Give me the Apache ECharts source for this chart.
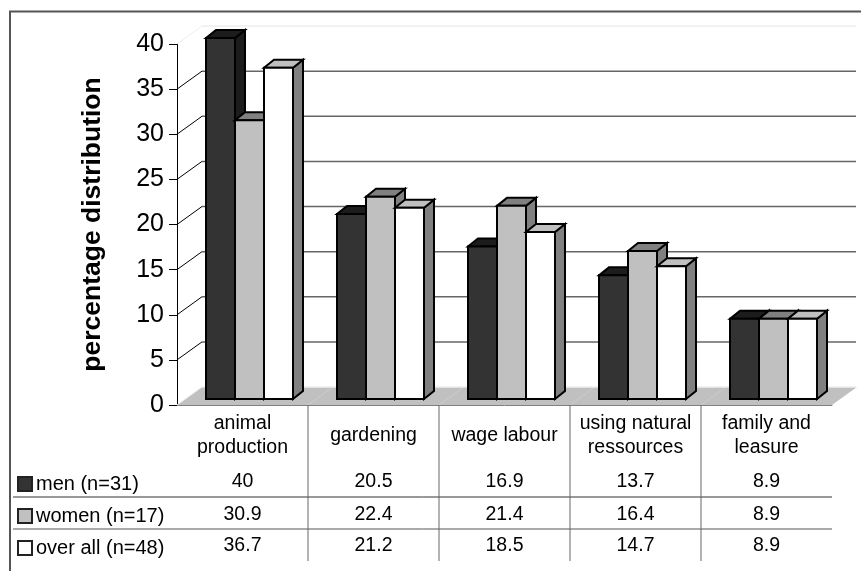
<!DOCTYPE html>
<html>
<head>
<meta charset="utf-8">
<script src="https://cdn.jsdelivr.net/npm/echarts@6/dist/echarts.min.js"></script>
<style>
html, body { margin: 0; padding: 0; background: #fff; }
#chart { width: 861px; height: 571px; }
</style>
</head>
<body>
<div id="chart"></div>
<script>
var categories = ['animal\nproduction', 'gardening', 'wage labour', 'using natural\nressources', 'family and\nleasure'];
var menValues = [40, 20.5, 16.9, 13.7, 8.9];
var womenValues = [30.9, 22.4, 21.4, 16.4, 8.9];
var allValues = [36.7, 21.2, 18.5, 14.7, 8.9];
var yTicks = [0, 5, 10, 15, 20, 25, 30, 35, 40];

var FONT = '"Liberation Sans", Arial, sans-serif';
// fake 3d sizes, same as the excel look
var WALL_DX = 25, WALL_DY = 18;
var BAR_W = 29, BAR_DX = 10, BAR_DY = 8;
var BAR_SHIFT_X = 7, BAR_SHIFT_Y = 6;
var ROW_Y = [482, 515, 546];

function poly(points, fill, stroke, lineWidth) {
    return { type: 'polygon', shape: { points: points }, style: { fill: fill, stroke: stroke, lineWidth: lineWidth, lineJoin: 'miter' } };
}

// one 3d bar plus its number in the table under the chart
function barRenderer(seriesPos, front, top, side) {
    return function (params, api) {
        var p = api.coord([api.value(0), api.value(1)]);
        var p0 = api.coord([api.value(0), 0]);
        var x0 = p[0] + BAR_SHIFT_X + (seriesPos - 1.5) * BAR_W;
        var x1 = x0 + BAR_W;
        var yTop = p[1] - BAR_SHIFT_Y;
        var yBase = p0[1] - BAR_SHIFT_Y;
        return {
            type: 'group',
            children: [
                poly([[x1, yTop], [x1 + BAR_DX, yTop - BAR_DY], [x1 + BAR_DX, yBase - BAR_DY], [x1, yBase]], side, '#000', 2),
                poly([[x0, yTop], [x0 + BAR_DX, yTop - BAR_DY], [x1 + BAR_DX, yTop - BAR_DY], [x1, yTop]], top, '#000', 2),
                poly([[x0, yTop], [x1, yTop], [x1, yBase], [x0, yBase]], front, '#000', 2),
                {
                    type: 'text',
                    style: {
                        x: p[0], y: ROW_Y[seriesPos], text: String(api.value(1)),
                        fill: '#000', font: '19.5px ' + FONT, align: 'center', verticalAlign: 'middle'
                    }
                }
            ]
        };
    };
}

function toPairs(values) {
    return values.map(function (v, i) { return [i, v]; });
}

function barSeries(name, values, pos, front, top, side) {
    return {
        name: name,
        type: 'custom',
        coordinateSystem: 'cartesian2d',
        itemStyle: { color: front },
        encode: { x: 0, y: 1 },
        data: toPairs(values),
        renderItem: barRenderer(pos, front, top, side),
        silent: true
    };
}

var option = {
    animation: false,
    textStyle: { fontFamily: FONT },
    legend: {
        orient: 'vertical',
        left: 12,
        top: 469,
        itemWidth: 14,
        itemHeight: 14,
        itemGap: 12,
        icon: 'rect',
        itemStyle: { borderColor: '#222', borderWidth: 2 },
        textStyle: { color: '#000', fontSize: 20, fontFamily: FONT, padding: [0, 0, 0, -1] },
        data: ['men (n=31)', 'women (n=17)', 'over all (n=48)'],
        selectedMode: false
    },
    grid: { left: 177, top: 44, width: 655, height: 361 },
    xAxis: {
        type: 'category',
        data: categories,
        axisLine: { lineStyle: { color: '#808080', width: 1 } },
        axisTick: { show: false },
        axisLabel: { color: '#000', fontSize: 19.5, lineHeight: 24, margin: 31, verticalAlign: 'middle', interval: 0, fontFamily: FONT }
    },
    yAxis: {
        type: 'value',
        min: 0,
        max: 40,
        interval: 5,
        name: 'percentage distribution',
        nameLocation: 'middle',
        nameGap: 71,
        nameTextStyle: { color: '#000', fontSize: 26.5, fontWeight: 'bold', fontFamily: FONT },
        axisLine: { show: true, lineStyle: { color: '#000', width: 1 } },
        axisTick: { show: true, length: 8, lineStyle: { color: '#000', width: 1 } },
        axisLabel: { color: '#000', fontSize: 25, margin: 13, fontFamily: FONT },
        splitLine: { show: false }
    },
    graphic: [
        // outer chart frame
        { type: 'polyline', silent: true, shape: { points: [[10, 571], [10, 11.5], [861, 11.5]] }, style: { stroke: '#555', fill: null, lineWidth: 2 } },
        // table rules
        { type: 'line', silent: true, shape: { x1: 13, y1: 497, x2: 832, y2: 497 }, style: { stroke: '#333', lineWidth: 1 } },
        { type: 'line', silent: true, shape: { x1: 13, y1: 529, x2: 832, y2: 529 }, style: { stroke: '#555', lineWidth: 1 } }
    ],
    series: [
        {
            // floor and table column rules, one per category
            name: 'floor',
            type: 'custom',
            silent: true,
            encode: { x: 0, y: 1 },
            data: categories.map(function (c, i) { return [i, 0]; }),
            renderItem: function (params, api) {
                var p = api.coord([api.value(0), 0]);
                var w = api.size([1, 0])[0];
                var xl = p[0] - w / 2, xr = p[0] + w / 2;
                var children = [poly([[xl, p[1]], [xl + WALL_DX, p[1] - WALL_DY], [xr + WALL_DX, p[1] - WALL_DY], [xr, p[1]]], '#c0c0c0', null, 0)];
                if (api.value(0) < categories.length - 1) {
                    children.push({ type: 'line', shape: { x1: xr, y1: p[1], x2: xr, y2: 561 }, style: { stroke: '#666', lineWidth: 1 } });
                }
                return { type: 'group', children: children };
            }
        },
        {
            // back wall grid lines with their depth slant
            name: 'wall',
            type: 'custom',
            silent: true,
            encode: { x: 0, y: 1 },
            data: yTicks.map(function (t) { return [0, t]; }),
            renderItem: function (params, api) {
                var v = api.value(1);
                var p = api.coord([0, v]);
                var w = api.size([1, 0])[0];
                var xl = p[0] - w / 2;
                var xr = xl + w * categories.length;
                var edge = v === 0 || v === yTicks[yTicks.length - 1];
                return {
                    type: 'group',
                    children: [
                        { type: 'line', shape: { x1: xl, y1: p[1], x2: xl + WALL_DX, y2: p[1] - WALL_DY }, style: { stroke: edge ? '#eeeeee' : '#000', lineWidth: 1 } },
                        { type: 'line', shape: { x1: xl + WALL_DX, y1: p[1] - WALL_DY, x2: xr + WALL_DX - 1, y2: p[1] - WALL_DY }, style: { stroke: edge ? '#eeeeee' : '#666', lineWidth: 1.5 } }
                    ]
                };
            }
        },
        barSeries('men (n=31)', menValues, 0, '#333333', '#1c1c1c', '#1c1c1c'),
        barSeries('women (n=17)', womenValues, 1, '#c0c0c0', '#808080', '#808080'),
        barSeries('over all (n=48)', allValues, 2, '#ffffff', '#c0c0c0', '#808080')
    ]
};

var myChart = echarts.init(document.getElementById('chart'), null, { renderer: 'canvas' });
myChart.setOption(option);
</script>
</body>
</html>
